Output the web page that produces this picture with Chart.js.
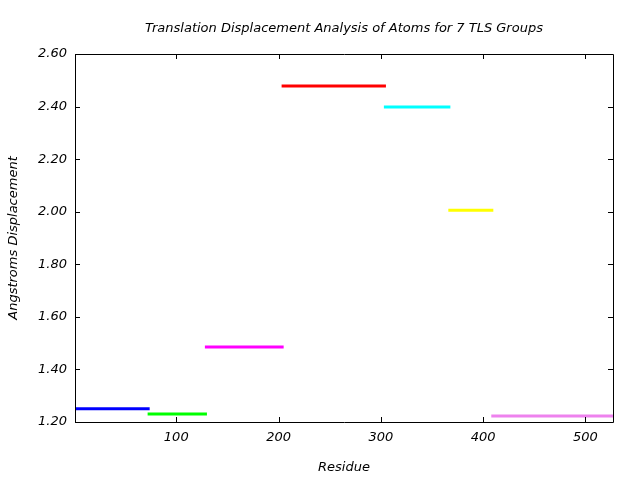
<!DOCTYPE html>
<html>
<head>
<meta charset="utf-8">
<script src="https://cdn.jsdelivr.net/npm/chart.js@4.4.1/dist/chart.umd.min.js"></script>
<style>
html,body{margin:0;padding:0;background:#fff;}
#wrap{width:640px;height:480px;}
</style>
</head>
<body>
<div id="wrap"><canvas id="c" width="640" height="480"></canvas></div>
<script>
const groupNames = ['TLS 1','TLS 2','TLS 3','TLS 4','TLS 5','TLS 6','TLS 7'];
const residueStart = [1, 72, 128, 203, 303, 366, 408];
const residueEnd = [74, 130, 205, 305, 368, 410, 527];
const displacement = [1.25, 1.23, 1.485, 2.478, 2.398, 2.006, 1.223];
const groupColors = ['#0000ff', '#00ff00', '#ff00ff', '#ff0000', '#00ffff', '#ffff00', '#ee82ee'];
const xTicks = [100, 200, 300, 400, 500];
const yTicks = [1.2, 1.4, 1.6, 1.8, 2.0, 2.2, 2.4, 2.6];

const FONT = 'DejaVu Sans';
const FS = 13;

const datasets = groupNames.map((n, i) => ({
  label: n,
  data: [{x: residueStart[i], y: displacement[i]}, {x: residueEnd[i], y: displacement[i]}],
  borderColor: groupColors[i],
  backgroundColor: groupColors[i],
  borderWidth: 3,
  pointRadius: 0,
  showLine: true,
  borderCapStyle: 'butt'
}));

const frame = {
  id: 'frame',
  afterDraw(chart) {
    const ctx = chart.ctx, a = chart.chartArea;
    const xs = chart.scales.x, ys = chart.scales.y;
    ctx.save();
    ctx.strokeStyle = '#000';
    ctx.lineWidth = 1;
    ctx.beginPath();
    ctx.rect(Math.round(a.left) + 0.5, Math.round(a.top) + 0.5, Math.round(a.right - a.left), Math.round(a.bottom - a.top));
    const L = 5;
    xTicks.forEach(v => {
      const p = Math.round(xs.getPixelForValue(v)) + 0.5;
      ctx.moveTo(p, a.bottom); ctx.lineTo(p, a.bottom - L);
      ctx.moveTo(p, a.top); ctx.lineTo(p, a.top + L);
    });
    yTicks.forEach(v => {
      const p = Math.round(ys.getPixelForValue(v)) + 0.5;
      ctx.moveTo(a.left, p); ctx.lineTo(a.left + L, p);
      ctx.moveTo(a.right, p); ctx.lineTo(a.right - L, p);
    });
    ctx.stroke();
    ctx.restore();
  }
};

new Chart(document.getElementById('c'), {
  type: 'scatter',
  data: { datasets },
  plugins: [frame],
  options: {
    responsive: false,
    animation: false,
    layout: { padding: { left: 0, right: 27, top: 0, bottom: 0 } },
    plugins: {
      legend: { display: false },
      tooltip: { enabled: false },
      title: {
        display: true,
        fullSize: false,
        text: 'Translation Displacement Analysis of Atoms for 7 TLS Groups',
        color: '#000',
        font: { family: FONT, size: FS, style: 'italic', weight: 'normal' },
        padding: { top: 21, bottom: 17.4 }
      }
    },
    scales: {
      x: {
        type: 'linear',
        min: 1, max: 527,
        grid: { display: false, drawTicks: false },
        border: { display: false },
        afterBuildTicks: s => { s.ticks = xTicks.map(v => ({ value: v })); },
        afterFit: s => { s.height = 58; },
        ticks: { color: '#000', padding: 8, maxRotation: 0, font: { family: FONT, size: FS, style: 'italic' } },
        title: { display: true, text: 'Residue', color: '#000', padding: { top: 0, bottom: 5 }, font: { family: FONT, size: FS, style: 'italic' } }
      },
      y: {
        type: 'linear',
        min: 1.2, max: 2.6,
        grid: { display: false, drawTicks: false },
        border: { display: false },
        afterBuildTicks: s => { s.ticks = yTicks.map(v => ({ value: v })); },
        afterFit: s => { s.width = 75; },
        ticks: { color: '#000', padding: 8, font: { family: FONT, size: FS, style: 'italic' }, callback: v => Number(v).toFixed(2) },
        title: { display: true, text: 'Angstroms Displacement', color: '#000', padding: { top: 6, bottom: 0 }, font: { family: FONT, size: FS, style: 'italic' } }
      }
    }
  }
});
</script>
</body>
</html>
